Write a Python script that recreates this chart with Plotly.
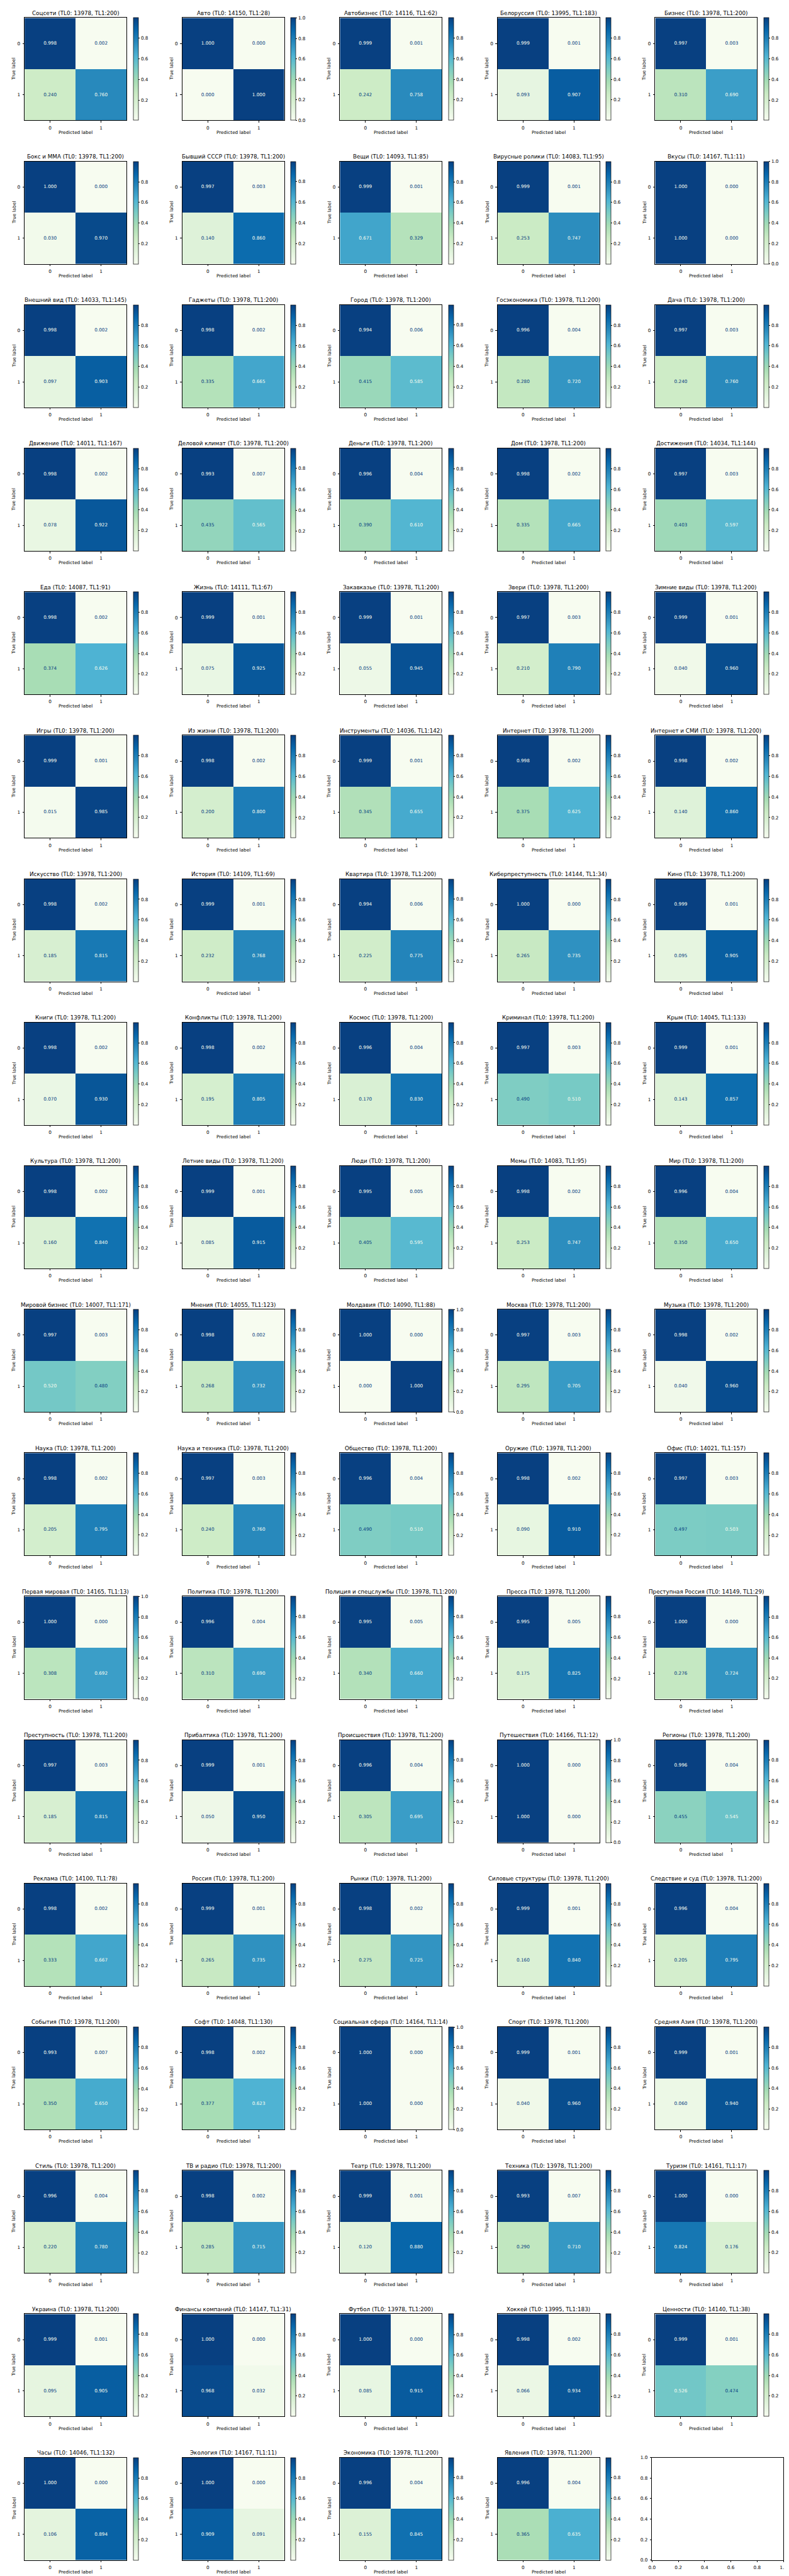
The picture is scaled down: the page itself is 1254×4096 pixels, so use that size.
import plotly.graph_objects as go

# ---------------- data ----------------
categories = [
    "Соцсети", "Авто", "Автобизнес", "Белоруссия", "Бизнес",
    "Бокс и ММА", "Бывший СССР", "Вещи", "Вирусные ролики", "Вкусы",
    "Внешний вид", "Гаджеты", "Город", "Госэкономика", "Дача",
    "Движение", "Деловой климат", "Деньги", "Дом", "Достижения",
    "Еда", "Жизнь", "Закавказье", "Звери", "Зимние виды",
    "Игры", "Из жизни", "Инструменты", "Интернет", "Интернет и СМИ",
    "Искусство", "История", "Квартира", "Киберпреступность", "Кино",
    "Книги", "Конфликты", "Космос", "Криминал", "Крым",
    "Культура", "Летние виды", "Люди", "Мемы", "Мир",
    "Мировой бизнес", "Мнения", "Молдавия", "Москва", "Музыка",
    "Наука", "Наука и техника", "Общество", "Оружие", "Офис",
    "Первая мировая", "Политика", "Полиция и спецслужбы", "Пресса", "Преступная Россия",
    "Преступность", "Прибалтика", "Происшествия", "Путешествия", "Регионы",
    "Реклама", "Россия", "Рынки", "Силовые структуры", "Следствие и суд",
    "События", "Софт", "Социальная сфера", "Спорт", "Средняя Азия",
    "Стиль", "ТВ и радио", "Театр", "Техника", "Туризм",
    "Украина", "Финансы компаний", "Футбол", "Хоккей", "Ценности",
    "Часы", "Экология", "Экономика", "Явления",
]
tl0 = [
    13978, 14150, 14116, 13995, 13978,
    13978, 13978, 14093, 14083, 14167,
    14033, 13978, 13978, 13978, 13978,
    14011, 13978, 13978, 13978, 14034,
    14087, 14111, 13978, 13978, 13978,
    13978, 13978, 14036, 13978, 13978,
    13978, 14109, 13978, 14144, 13978,
    13978, 13978, 13978, 13978, 14045,
    13978, 13978, 13978, 14083, 13978,
    14007, 14055, 14090, 13978, 13978,
    13978, 13978, 13978, 13978, 14021,
    14165, 13978, 13978, 13978, 14149,
    13978, 13978, 13978, 14166, 13978,
    14100, 13978, 13978, 13978, 13978,
    13978, 14048, 14164, 13978, 13978,
    13978, 13978, 13978, 13978, 14161,
    13978, 14147, 13978, 13995, 14140,
    14046, 14167, 13978, 13978,
]
tl1 = [
    200, 28, 62, 183, 200,
    200, 200, 85, 95, 11,
    145, 200, 200, 200, 200,
    167, 200, 200, 200, 144,
    91, 67, 200, 200, 200,
    200, 200, 142, 200, 200,
    200, 69, 200, 34, 200,
    200, 200, 200, 200, 133,
    200, 200, 200, 95, 200,
    171, 123, 88, 200, 200,
    200, 200, 200, 200, 157,
    13, 200, 200, 200, 29,
    200, 200, 200, 12, 200,
    78, 200, 200, 200, 200,
    200, 130, 14, 200, 200,
    200, 200, 200, 200, 17,
    200, 31, 200, 183, 38,
    132, 11, 200, 200,
]
# normalized confusion matrix cells: [true0/pred0, true0/pred1, true1/pred0, true1/pred1]
cm00 = [
    0.998, 1.0, 0.999, 0.999, 0.997,
    0.9998, 0.997, 0.999, 0.999, 1.0,
    0.998, 0.998, 0.994, 0.996, 0.997,
    0.998, 0.993, 0.996, 0.998, 0.997,
    0.998, 0.999, 0.999, 0.997, 0.999,
    0.999, 0.998, 0.999, 0.998, 0.998,
    0.998, 0.999, 0.994, 0.9998, 0.999,
    0.998, 0.998, 0.996, 0.997, 0.999,
    0.998, 0.999, 0.995, 0.998, 0.996,
    0.997, 0.998, 1.0, 0.997, 0.998,
    0.998, 0.997, 0.996, 0.998, 0.997,
    1.0, 0.996, 0.995, 0.995, 0.9998,
    0.997, 0.999, 0.996, 1.0, 0.996,
    0.998, 0.999, 0.998, 0.999, 0.996,
    0.993, 0.998, 1.0, 0.999, 0.999,
    0.996, 0.998, 0.999, 0.993, 0.9998,
    0.999, 0.9998, 0.9998, 0.998, 0.999,
    0.9998, 0.9998, 0.996, 0.996,
]
cm01 = [
    0.002, 0.0, 0.001, 0.001, 0.003,
    0.0002, 0.003, 0.001, 0.001, 0.0,
    0.002, 0.002, 0.006, 0.004, 0.003,
    0.002, 0.007, 0.004, 0.002, 0.003,
    0.002, 0.001, 0.001, 0.003, 0.001,
    0.001, 0.002, 0.001, 0.002, 0.002,
    0.002, 0.001, 0.006, 0.0002, 0.001,
    0.002, 0.002, 0.004, 0.003, 0.001,
    0.002, 0.001, 0.005, 0.002, 0.004,
    0.003, 0.002, 0.0, 0.003, 0.002,
    0.002, 0.003, 0.004, 0.002, 0.003,
    0.0, 0.004, 0.005, 0.005, 0.0002,
    0.003, 0.001, 0.004, 0.0, 0.004,
    0.002, 0.001, 0.002, 0.001, 0.004,
    0.007, 0.002, 0.0, 0.001, 0.001,
    0.004, 0.002, 0.001, 0.007, 0.0002,
    0.001, 0.0002, 0.0002, 0.002, 0.001,
    0.0002, 0.0002, 0.004, 0.004,
]
cm10 = [
    0.240, 0.0, 0.242, 0.093, 0.310,
    0.030, 0.140, 0.671, 0.253, 1.0,
    0.097, 0.335, 0.415, 0.280, 0.240,
    0.078, 0.435, 0.390, 0.335, 0.403,
    0.374, 0.075, 0.055, 0.210, 0.040,
    0.015, 0.200, 0.345, 0.375, 0.140,
    0.185, 0.232, 0.225, 0.265, 0.095,
    0.070, 0.195, 0.170, 0.490, 0.143,
    0.160, 0.085, 0.405, 0.253, 0.350,
    0.520, 0.268, 0.0, 0.295, 0.040,
    0.205, 0.240, 0.490, 0.090, 0.497,
    0.308, 0.310, 0.340, 0.175, 0.276,
    0.185, 0.050, 0.305, 1.0, 0.455,
    0.333, 0.265, 0.275, 0.160, 0.205,
    0.350, 0.377, 1.0, 0.040, 0.060,
    0.220, 0.285, 0.120, 0.290, 0.824,
    0.095, 0.968, 0.085, 0.066, 0.526,
    0.106, 0.909, 0.155, 0.365,
]
cm11 = [
    0.760, 1.0, 0.758, 0.907, 0.690,
    0.970, 0.860, 0.329, 0.747, 0.0,
    0.903, 0.665, 0.585, 0.720, 0.760,
    0.922, 0.565, 0.610, 0.665, 0.597,
    0.626, 0.925, 0.945, 0.790, 0.960,
    0.985, 0.800, 0.655, 0.625, 0.860,
    0.815, 0.768, 0.775, 0.735, 0.905,
    0.930, 0.805, 0.830, 0.510, 0.857,
    0.840, 0.915, 0.595, 0.747, 0.650,
    0.480, 0.732, 1.0, 0.705, 0.960,
    0.795, 0.760, 0.510, 0.910, 0.503,
    0.692, 0.690, 0.660, 0.825, 0.724,
    0.815, 0.950, 0.695, 0.0, 0.545,
    0.667, 0.735, 0.725, 0.840, 0.795,
    0.650, 0.623, 0.0, 0.960, 0.940,
    0.780, 0.715, 0.880, 0.710, 0.176,
    0.905, 0.032, 0.915, 0.934, 0.474,
    0.894, 0.091, 0.845, 0.635,
]
class_ticks = ["0", "1"]
cbar_ticks = [0.0, 0.2, 0.4, 0.6, 0.8, 1.0]
empty_ticks = [0.0, 0.2, 0.4, 0.6, 0.8, 1.0]

# ---------------- styling / layout ----------------
GNBU = ["#f7fcf0", "#e0f3db", "#ccebc5", "#a8ddb5", "#7bccc4",
        "#4eb3d3", "#2b8cbe", "#0868ac", "#084081"]
colorscale = [[i / 8, c] for i, c in enumerate(GNBU)]
LIGHT = GNBU[0]
DARK = GNBU[-1]
FONT = "DejaVu Sans"
S = 0.526
TITLE_SIZE = 16.7 * S
LABEL_SIZE = 13.9 * S

REF_W, REF_H = 2384.0, 7784.0
NCOL = 5


def fx(X):
    return X / REF_W


def fy(Y):
    return 1 - Y / REF_H


CELL_X0 = 38.2
COL_PITCH = 481.0
CELL_W = 401.0
ROW_TOP0 = 31.3
ROW_PITCH = 434.6
HM_H = 310.5

fig = go.Figure()
layout = dict(
    width=1254, height=4096,
    margin=dict(l=0, r=0, t=0, b=0),
    paper_bgcolor="white", plot_bgcolor="white",
    font=dict(family=FONT, color="black", size=LABEL_SIZE),
    showlegend=False,
)
annotations = []

axis_common = dict(
    showgrid=False, zeroline=False, showline=True, mirror=True,
    linecolor="black", linewidth=0.8, ticks="outside", ticklen=2.6,
    tickwidth=0.7, tickcolor="black",
    tickfont=dict(family=FONT, size=LABEL_SIZE, color="black"),
    fixedrange=True,
)

n = len(categories)
for i in range(n):
    r, c = divmod(i, NCOL)
    X0 = CELL_X0 + COL_PITCH * c
    hx0, hx1 = X0 + 10, X0 + 321
    Yt = ROW_TOP0 + ROW_PITCH * r
    Yb = Yt + HM_H
    k = i + 1
    xa = "x" if k == 1 else f"x{k}"
    ya = "y" if k == 1 else f"y{k}"
    z = [[cm00[i], cm01[i]], [cm10[i], cm11[i]]]
    vals = [cm00[i], cm01[i], cm10[i], cm11[i]]
    zmin, zmax = min(vals), max(vals)
    thresh = (zmin + zmax) / 2.0

    fig.add_trace(go.Heatmap(
        z=z, x=[0, 1], y=[0, 1], zmin=zmin, zmax=zmax,
        colorscale=colorscale, xaxis=xa, yaxis=ya, hoverinfo="skip",
        colorbar=dict(
            x=fx(X0 + 341), xanchor="left", xpad=0,
            y=fy(Yt), yanchor="top", ypad=0,
            len=HM_H / REF_H, lenmode="fraction",
            thickness=15.5 * S, thicknessmode="pixels",
            outlinewidth=0.7, outlinecolor="black",
            ticks="outside", ticklen=2.6, tickwidth=0.7, tickcolor="black",
            tickvals=cbar_ticks, ticktext=[f"{t:.1f}" for t in cbar_ticks],
            tickfont=dict(family=FONT, size=LABEL_SIZE, color="black"),
        ),
    ))
    fig.add_trace(go.Scatter(
        x=[0, 1, 0, 1], y=[0, 0, 1, 1], mode="text",
        text=[f"{v:.3f}" for v in vals],
        textfont=dict(family=FONT, size=LABEL_SIZE,
                      color=[DARK if v < thresh else LIGHT for v in vals]),
        xaxis=xa, yaxis=ya, hoverinfo="skip",
    ))

    xkey = "xaxis" if k == 1 else f"xaxis{k}"
    ykey = "yaxis" if k == 1 else f"yaxis{k}"
    layout[xkey] = dict(axis_common, domain=[fx(hx0), fx(hx1)], anchor=ya,
                        range=[-0.5, 1.5], tickvals=[0, 1], ticktext=class_ticks,
                        ticklabelstandoff=2)
    layout[ykey] = dict(axis_common, domain=[fy(Yb), fy(Yt)], anchor=xa,
                        range=[1.5, -0.5], tickvals=[0, 1], ticktext=class_ticks,
                        ticklabelstandoff=2)

    title = f"{categories[i]} (TL0: {tl0[i]}, TL1:{tl1[i]})"
    annotations.append(dict(
        text=title, xref="paper", yref="paper", x=fx((hx0 + hx1) / 2),
        y=fy(Yt - 14.5), xanchor="center", yanchor="middle", showarrow=False,
        font=dict(family=FONT, size=TITLE_SIZE, color="black"),
    ))
    annotations.append(dict(
        text="Predicted label", xref="paper", yref="paper",
        x=fx((hx0 + hx1) / 2), y=fy(Yb + 35.5), xanchor="center",
        yanchor="middle", showarrow=False,
        font=dict(family=FONT, size=LABEL_SIZE, color="black"),
    ))
    annotations.append(dict(
        text="True label", xref="paper", yref="paper",
        x=fx(hx0 - 33), y=fy((Yt + Yb) / 2), xanchor="center",
        yanchor="middle", showarrow=False, textangle=-90,
        font=dict(family=FONT, size=LABEL_SIZE, color="black"),
    ))

# empty last axes
k = n + 1
r, c = divmod(n, NCOL)
X0 = CELL_X0 + COL_PITCH * c
Yt = ROW_TOP0 + ROW_PITCH * r
Yb = Yt + HM_H
layout[f"xaxis{k}"] = dict(axis_common, domain=[fx(X0), fx(X0 + CELL_W)],
                           anchor=f"y{k}", range=[0, 1], tickvals=empty_ticks,
                           ticktext=[f"{t:.1f}" for t in empty_ticks],
                           ticklabelstandoff=2)
layout[f"yaxis{k}"] = dict(axis_common, domain=[fy(Yb), fy(Yt)],
                           anchor=f"x{k}", range=[0, 1], tickvals=empty_ticks,
                           ticktext=[f"{t:.1f}" for t in empty_ticks],
                           ticklabelstandoff=2)
fig.add_trace(go.Scatter(x=[], y=[], xaxis=f"x{k}", yaxis=f"y{k}",
                         mode="markers", hoverinfo="skip"))

layout["annotations"] = annotations
fig.update_layout(**layout)
fig.write_html("out.html")
